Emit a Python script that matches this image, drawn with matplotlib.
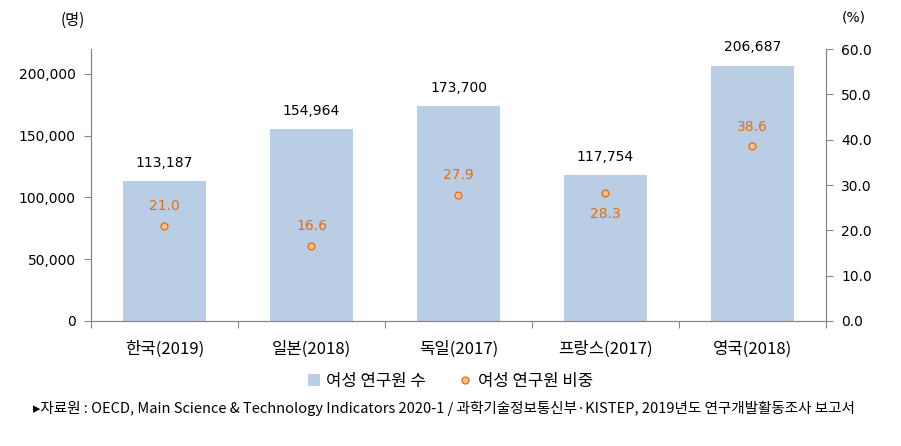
import matplotlib
matplotlib.use('Agg')
import matplotlib.pyplot as plt
from matplotlib.ticker import FuncFormatter, FixedLocator

plt.rcParams['font.family'] = ['Noto Sans CJK KR', 'DejaVu Sans']

countries = ['한국(2019)', '일본(2018)', '독일(2017)', '프랑스(2017)', '영국(2018)']
researchers = [113187, 154964, 173700, 117754, 206687]
share = [21.0, 16.6, 27.9, 28.3, 38.6]

bar_color = '#B9CDE5'
orange = '#E46C0A'
spine_c = '#868686'

fig = plt.figure(figsize=(9.01, 4.46), dpi=100)
ax = fig.add_axes([0.101, 0.2803, 0.8157, 0.6097])
ax2 = ax.twinx()

x = list(range(len(countries)))
ax.bar(x, researchers, width=0.56, color=bar_color, zorder=2, label='여성 연구원 수')
ax2.plot(x, share, linestyle='none', marker='o', markersize=5,
         markerfacecolor='#FAC090', markeredgecolor=orange, markeredgewidth=0.9,
         zorder=3, label='여성 연구원 비중')

for xi, v in zip(x, researchers):
    ax.annotate(f'{v:,}', (xi, v), xytext=(0, 8), textcoords='offset points',
                ha='center', va='bottom', fontsize=10, family='DejaVu Sans')
for xi, v in zip(x, share):
    dy = -15 if v == 28.3 else 14
    ax2.annotate(f'{v:.1f}', (xi, v), xytext=(0, dy), textcoords='offset points',
                 ha='center', va='center', fontsize=10, color=orange, family='DejaVu Sans')

ax.set_xlim(-0.5, len(countries) - 0.5)
ax.set_ylim(0, 220000)
ax2.set_ylim(0, 60)
ax.set_yticks([0, 50000, 100000, 150000, 200000])
ax.yaxis.set_major_formatter(FuncFormatter(lambda v, p: f'{int(v):,}'))
ax2.set_yticks([0, 10, 20, 30, 40, 50, 60])
ax2.yaxis.set_major_formatter(FuncFormatter(lambda v, p: f'{v:.1f}'))

ax.set_xticks(x)
ax.set_xticklabels(countries, fontsize=12)
ax.xaxis.set_minor_locator(FixedLocator([-0.5, 0.5, 1.5, 2.5, 3.5, 4.5]))
ax.tick_params(axis='x', which='major', length=0, pad=14)
ax.tick_params(axis='x', which='minor', length=5, color=spine_c, width=0.8)
ax.tick_params(axis='y', length=5, color=spine_c, width=0.8, labelsize=10, pad=6)
ax2.tick_params(axis='y', length=5, color=spine_c, width=0.8, labelsize=10, pad=6)
for t in ax.get_yticklabels() + ax2.get_yticklabels():
    t.set_family('DejaVu Sans')

for a in (ax, ax2):
    a.spines['top'].set_visible(False)
    for s in ('left', 'right', 'bottom'):
        a.spines[s].set_color(spine_c)
        a.spines[s].set_linewidth(0.8)

fig.text(0.067, 0.955, '(명)', ha='left', va='center', fontsize=11)
fig.text(0.948, 0.96, '(%)', ha='center', va='center', fontsize=10, family='DejaVu Sans')

h1, l1 = ax.get_legend_handles_labels()
h2, l2 = ax2.get_legend_handles_labels()
fig.legend(h1 + h2, l1 + l2, loc='center', bbox_to_anchor=(0.5, 0.145), ncol=2,
           frameon=False, fontsize=12, handlelength=0.7, handletextpad=0.4,
           columnspacing=2.0)

fig.text(0.037, 0.085,
         '▸자료원 : OECD, Main Science & Technology Indicators 2020-1 / 과학기술정보통신부·KISTEP, 2019년도 연구개발활동조사 보고서',
         ha='left', va='center', fontsize=10.5)

fig.savefig('out.png', dpi=100)
